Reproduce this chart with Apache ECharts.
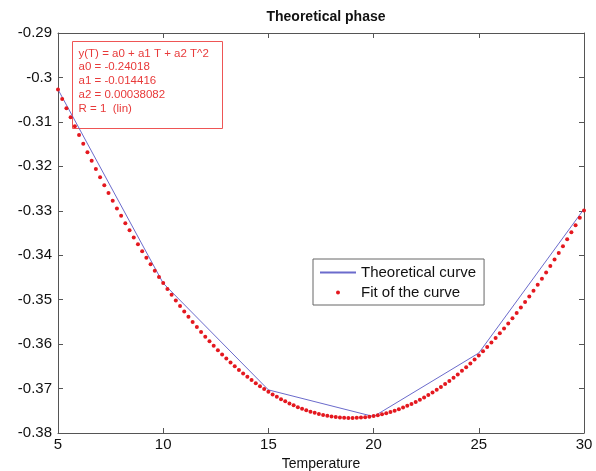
<!DOCTYPE html>
<html>
<head>
<meta charset="utf-8">
<script src="https://cdn.jsdelivr.net/npm/echarts@6/dist/echarts.min.js"></script>
<style>
  html, body { margin: 0; padding: 0; background: #fff; }
  #main { width: 596px; height: 471px; }
</style>
</head>
<body>
<div id="main"></div>
<script>
// theoretical curve, read at the kinks
var theoT = [5, 10, 15, 20, 25, 30];
var theoY = [-0.3027, -0.3463, -0.3703, -0.3763, -0.3620, -0.3296];

// fitted points (red dots)
var fitT = [5.0, 5.2, 5.4, 5.6, 5.8, 6.0, 6.2, 6.4, 6.6, 6.8,
  7.0, 7.2, 7.4, 7.6, 7.8, 8.0, 8.2, 8.4, 8.6, 8.8,
  9.0, 9.2, 9.4, 9.6, 9.8, 10.0, 10.2, 10.4, 10.6, 10.8,
  11.0, 11.2, 11.4, 11.6, 11.8, 12.0, 12.2, 12.4, 12.6, 12.8,
  13.0, 13.2, 13.4, 13.6, 13.8, 14.0, 14.2, 14.4, 14.6, 14.8,
  15.0, 15.2, 15.4, 15.6, 15.8, 16.0, 16.2, 16.4, 16.6, 16.8,
  17.0, 17.2, 17.4, 17.6, 17.8, 18.0, 18.2, 18.4, 18.6, 18.8,
  19.0, 19.2, 19.4, 19.6, 19.8, 20.0, 20.2, 20.4, 20.6, 20.8,
  21.0, 21.2, 21.4, 21.6, 21.8, 22.0, 22.2, 22.4, 22.6, 22.8,
  23.0, 23.2, 23.4, 23.6, 23.8, 24.0, 24.2, 24.4, 24.6, 24.8,
  25.0, 25.2, 25.4, 25.6, 25.8, 26.0, 26.2, 26.4, 26.6, 26.8,
  27.0, 27.2, 27.4, 27.6, 27.8, 28.0, 28.2, 28.4, 28.6, 28.8,
  29.0, 29.2, 29.4, 29.6, 29.8, 30.0];
var fitY = [-0.30274, -0.30485, -0.30692, -0.30897, -0.31098, -0.31297, -0.31492, -0.31684, -0.31874, -0.32060,
  -0.32243, -0.32423, -0.32600, -0.32775, -0.32946, -0.33114, -0.33278, -0.33440, -0.33599, -0.33755,
  -0.33908, -0.34057, -0.34204, -0.34348, -0.34488, -0.34626, -0.34760, -0.34892, -0.35020, -0.35145,
  -0.35268, -0.35387, -0.35503, -0.35616, -0.35726, -0.35833, -0.35937, -0.36038, -0.36136, -0.36231,
  -0.36323, -0.36412, -0.36497, -0.36580, -0.36660, -0.36736, -0.36810, -0.36880, -0.36948, -0.37012,
  -0.37074, -0.37132, -0.37187, -0.37239, -0.37288, -0.37335, -0.37378, -0.37418, -0.37455, -0.37489,
  -0.37520, -0.37547, -0.37572, -0.37594, -0.37613, -0.37628, -0.37641, -0.37650, -0.37657, -0.37660,
  -0.37661, -0.37658, -0.37652, -0.37644, -0.37632, -0.37617, -0.37599, -0.37578, -0.37554, -0.37527,
  -0.37497, -0.37464, -0.37428, -0.37389, -0.37347, -0.37302, -0.37253, -0.37202, -0.37147, -0.37090,
  -0.37029, -0.36966, -0.36899, -0.36830, -0.36757, -0.36681, -0.36602, -0.36521, -0.36436, -0.36348,
  -0.36257, -0.36163, -0.36066, -0.35966, -0.35862, -0.35756, -0.35647, -0.35535, -0.35419, -0.35301,
  -0.35179, -0.35055, -0.34927, -0.34797, -0.34663, -0.34527, -0.34387, -0.34244, -0.34098, -0.33949,
  -0.33797, -0.33642, -0.33484, -0.33323, -0.33159, -0.32992];

var fitLines = [
  'y(T) = a0 + a1 T + a2 T^2',
  'a0 = -0.24018',
  'a1 = -0.014416',
  'a2 = 0.00038082',
  'R = 1  (lin)'
];

var chart = echarts.init(document.getElementById('main'));

function pairs(xs, ys) {
  var out = [];
  for (var i = 0; i < xs.length; i++) out.push([xs[i], ys[i]]);
  return out;
}

var axisColor = '#555';
var font = 'Liberation Sans, Arial, sans-serif';

var option = {
  backgroundColor: '#fff',
  animation: false,
  title: {
    text: 'Theoretical phase',
    left: 321, top: 5,
    textAlign: 'center',
    textStyle: { fontFamily: font, fontSize: 14, fontWeight: 'bold', color: '#111' }
  },
  grid: { left: 58, right: 12, top: 33, bottom: 38, outerBoundsMode: 'none', containLabel: false },
  legend: {
    left: 313, top: 259,
    orient: 'vertical',
    backgroundColor: '#fff',
    borderColor: '#666', borderWidth: 1,
    padding: [6, 8, 5, 6],
    itemGap: 5,
    itemWidth: 36, itemHeight: 4,
    textStyle: { fontFamily: font, fontSize: 15, color: '#111' },
    data: [
      { name: 'Theoretical curve', itemStyle: { opacity: 0 } },
      { name: 'Fit of the curve', icon: 'circle' }
    ]
  },
  xAxis: [{
    type: 'value', min: 5, max: 30, interval: 5,
    name: 'Temperature', nameLocation: 'middle', nameGap: 21,
    nameTextStyle: { fontFamily: font, fontSize: 14, color: '#111' },
    axisLine: { lineStyle: { color: axisColor } },
    axisTick: { inside: true, length: 5, lineStyle: { color: axisColor } },
    axisLabel: { fontFamily: font, fontSize: 15, color: '#111', margin: 4 },
    splitLine: { show: false }
  }, {
    type: 'value', min: 5, max: 30, interval: 5, position: 'top',
    axisLine: { lineStyle: { color: axisColor } },
    axisTick: { inside: true, length: 5, lineStyle: { color: axisColor } },
    axisLabel: { show: false },
    splitLine: { show: false }
  }],
  yAxis: [{
    type: 'value', min: -0.38, max: -0.29, interval: 0.01,
    axisLine: { lineStyle: { color: axisColor } },
    axisTick: { inside: true, length: 5, lineStyle: { color: axisColor } },
    axisLabel: { fontFamily: font, fontSize: 15, color: '#111', margin: 6 },
    splitLine: { show: false }
  }, {
    type: 'value', min: -0.38, max: -0.29, interval: 0.01, position: 'right',
    axisLine: { lineStyle: { color: axisColor } },
    axisTick: { inside: true, length: 5, lineStyle: { color: axisColor } },
    axisLabel: { show: false },
    splitLine: { show: false }
  }],
  series: [{
    name: 'Theoretical curve',
    type: 'line',
    data: pairs(theoT, theoY),
    symbol: 'none',
    lineStyle: { color: '#6b6bcc', width: 1 },
    itemStyle: { color: '#6b6bcc' },
    z: 2
  }, {
    name: 'Fit of the curve',
    type: 'scatter',
    data: pairs(fitT, fitY),
    symbolSize: 4,
    itemStyle: { color: '#e4181f', opacity: 1 },
    z: 3
  }],
  graphic: [{
    type: 'group',
    left: 72, top: 41,
    children: [{
      type: 'rect',
      shape: { x: 0, y: 0, width: 150, height: 87 },
      style: { fill: '#fff', stroke: '#ee5555', lineWidth: 1 }
    }, {
      type: 'text',
      x: 6, y: 5,
      style: {
        text: fitLines.join('\n'),
        fill: '#e83a3a',
        font: '11.5px ' + font,
        lineHeight: 13.8
      }
    }]
  }]
};

chart.setOption(option);
</script>
</body>
</html>
